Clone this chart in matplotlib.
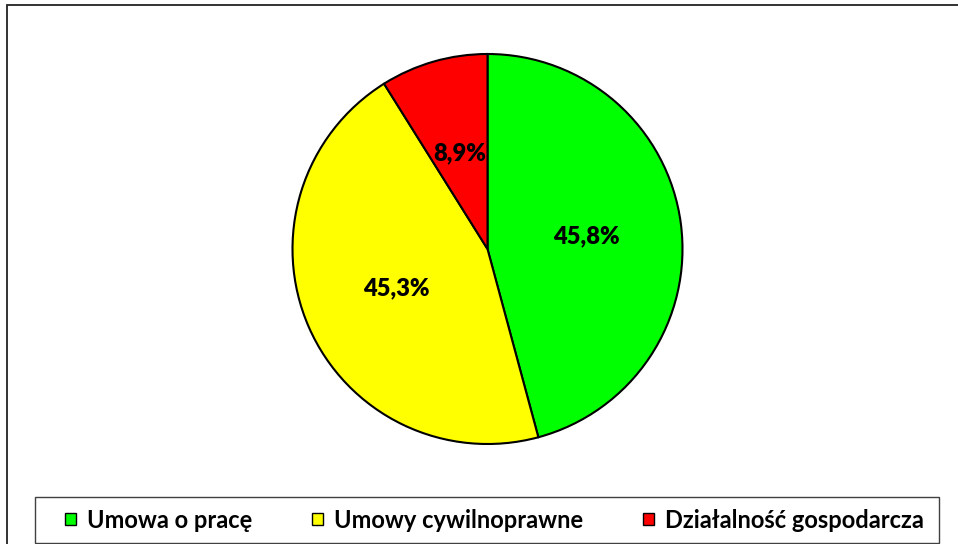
import numpy as np
from matplotlib import pyplot as plt
import matplotlib.patches as mpatches

# data
categories = ["Umowa o pracę", "Umowy cywilnoprawne", "Działalność gospodarcza"]
shares = [45.8, 45.3, 8.9]
colors = ["#00ff00", "#ffff00", "#ff0000"]

W, H = 958, 544

plt.rcParams['font.family'] = ['Lato', 'DejaVu Sans']


def pct_label(p):
    '''
        Format percent with a comma like the original
    '''
    return ("%.1f%%" % p).replace(".", ",")


def draw_legend(fig, names, cols):
    '''
        Legend drawn by hand so entries sit where the original has them
            names : legend labels
            cols : square colors
    '''
    box = mpatches.Rectangle((35 / W, 1 / H), 904 / W, 46 / H,
                             transform=fig.transFigure, fill=False,
                             edgecolor="#404040", linewidth=1.0)
    fig.patches.append(box)
    # left pixel of each entry's square
    starts = [65, 312, 643]
    yc = H - 519
    for x0, c, name in zip(starts, cols, names):
        sq = mpatches.Rectangle((x0 / W, (yc - 6) / H), 11 / W, 12 / H,
                                transform=fig.transFigure, facecolor=c,
                                edgecolor="black", linewidth=1.0)
        fig.patches.append(sq)
        fig.text((x0 + 22) / W, yc / H, name, fontsize=17, fontweight='bold',
                 va='center_baseline', ha='left')


def main():
    fig = plt.figure(figsize=(W / 100, H / 100), dpi=100)
    ax = fig.add_axes([0, 0, 1, 1])

    # outer frame, only top and left edges are visible
    frame = mpatches.Rectangle((7 / W, -0.2), 1.5, 1.2 - 5.5 / H,
                               transform=fig.transFigure, fill=False,
                               edgecolor="#222222", linewidth=1.3,
                               clip_on=False)
    fig.patches.append(frame)

    wedges, texts, autotexts = ax.pie(
        shares, colors=colors, startangle=90, counterclock=False,
        center=(487.5, H - 249), radius=195,
        autopct=pct_label, pctdistance=0.51,
        wedgeprops=dict(edgecolor="black", linewidth=1.5),
        textprops=dict(fontsize=17, fontweight='heavy', color='black'))
    # pie resets the limits, so put the pixel frame back afterwards
    ax.set_xlim(0, W)
    ax.set_ylim(0, H)
    ax.set_aspect('equal')
    ax.axis('off')

    draw_legend(fig, categories, colors)

    fig.savefig("out.png", dpi=100)


if __name__ == "__main__":
    main()
